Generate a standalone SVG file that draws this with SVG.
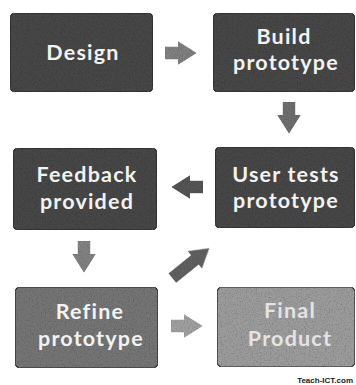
<svg xmlns="http://www.w3.org/2000/svg" width="356" height="385" viewBox="0 0 356 385">
  <style>
    .box { stroke: #262626; stroke-width: 1.2; filter: url(#grain); }
    .dark { fill: #474747; }
    .mid { fill: #757575; }
    .light { fill: #9c9c9c; }
    .lbl { font-family: Lato, "Open Sans", "DejaVu Sans", sans-serif; font-weight: 700; font-size: 21.5px; letter-spacing: 1.2px; fill: #f2f2f2; text-anchor: middle; }
    .lbl2 { fill: #e4e4e4; }
    .arr { filter: url(#grain); }
    .credit { font-family: "Liberation Sans", Arial, sans-serif; font-weight: 700; font-size: 8px; fill: #1a1a1a; text-anchor: end; }
  </style>
  <defs>
    <filter id="grain" x="0" y="0" width="1" height="1">
      <feTurbulence type="fractalNoise" baseFrequency="0.75" numOctaves="2" seed="5" result="n"/>
      <feColorMatrix in="n" type="saturate" values="0" result="g"/>
      <feComponentTransfer in="g" result="t">
        <feFuncR type="linear" slope="1.3" intercept="0.3"/>
        <feFuncG type="linear" slope="1.3" intercept="0.3"/>
        <feFuncB type="linear" slope="1.3" intercept="0.3"/>
        <feFuncA type="linear" slope="0" intercept="1"/>
      </feComponentTransfer>
      <feBlend in="SourceGraphic" in2="t" mode="multiply" result="b"/>
      <feComposite in="b" in2="SourceGraphic" operator="in"/>
    </filter>
    <path id="arrow" d="M-16,-6.5 H-3 V-12 L16,0 L-3,12 V6.5 H-16 Z"/>
    <path id="longarrow" d="M-24,-6 H5 V-11.5 L24,0 L5,11.5 V6 H-24 Z"/>
  </defs>

  <g id="connectors">
    <use href="#arrow" class="arr" fill="#808080" transform="translate(181,53)"/>
    <use href="#arrow" class="arr" fill="#6e6e6e" transform="translate(289,118) rotate(90)"/>
    <use href="#arrow" class="arr" fill="#555555" transform="translate(187,187) rotate(180)"/>
    <use href="#arrow" class="arr" fill="#828282" transform="translate(84,257) rotate(90)"/>
    <use href="#longarrow" class="arr" fill="#616161" transform="translate(191,263) rotate(-39)"/>
    <use href="#arrow" class="arr" fill="#a0a0a0" transform="translate(187,326)"/>
  </g>

  <g id="design">
    <rect class="box dark" x="10" y="13" width="143" height="79" rx="5"/>
    <text class="lbl" x="83" y="60">Design</text>
  </g>
  <g id="build">
    <rect class="box dark" x="213" y="13" width="142" height="79" rx="5"/>
    <text class="lbl" x="284" y="44">Build</text>
    <text class="lbl" x="286" y="70">prototype</text>
  </g>
  <g id="usertests">
    <rect class="box dark" x="215" y="147" width="140" height="81" rx="5"/>
    <text class="lbl" x="286" y="182">User tests</text>
    <text class="lbl" x="286" y="208">prototype</text>
  </g>
  <g id="feedback">
    <rect class="box dark" x="13" y="148" width="144" height="82" rx="5"/>
    <text class="lbl" x="87" y="182">Feedback</text>
    <text class="lbl" x="87" y="209">provided</text>
  </g>
  <g id="refine">
    <rect class="box mid" x="15" y="287" width="143" height="81" rx="5"/>
    <text class="lbl" x="90" y="319">Refine</text>
    <text class="lbl" x="91" y="346">prototype</text>
  </g>
  <g id="final">
    <rect class="box light" x="217" y="287" width="138" height="80" rx="5"/>
    <text class="lbl lbl2" x="290" y="318">Final</text>
    <text class="lbl lbl2" x="290" y="346">Product</text>
  </g>
  <text class="credit" x="353" y="383">Teach-ICT.com</text>
</svg>
